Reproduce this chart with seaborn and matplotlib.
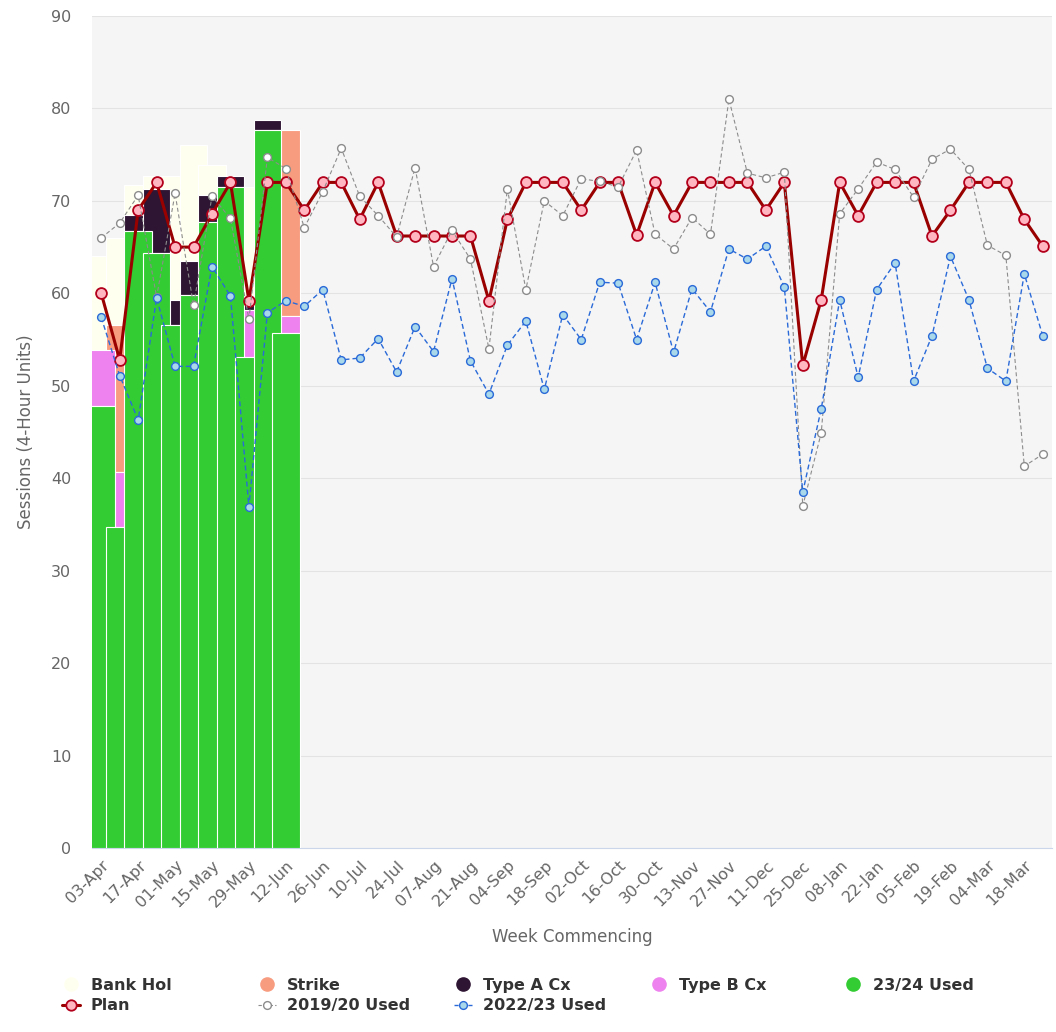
import matplotlib
matplotlib.use('Agg')
import matplotlib.pyplot as plt
from matplotlib.lines import Line2D
import seaborn as sns
import numpy as np

weeks = [
    '03-Apr', '10-Apr', '17-Apr', '24-Apr', '01-May', '08-May', '15-May', '22-May',
    '29-May', '05-Jun', '12-Jun', '19-Jun', '26-Jun', '03-Jul', '10-Jul', '17-Jul',
    '24-Jul', '31-Jul', '07-Aug', '14-Aug', '21-Aug', '28-Aug', '04-Sep', '11-Sep',
    '18-Sep', '25-Sep', '02-Oct', '09-Oct', '16-Oct', '23-Oct', '30-Oct', '06-Nov',
    '13-Nov', '20-Nov', '27-Nov', '04-Dec', '11-Dec', '18-Dec', '25-Dec', '01-Jan',
    '08-Jan', '15-Jan', '22-Jan', '29-Jan', '05-Feb', '12-Feb', '19-Feb', '26-Feb',
    '04-Mar', '11-Mar', '18-Mar', '25-Mar',
]

# stacked columns (only the first 11 weeks have actuals)
used_2324 = [47.8, 34.7, 66.7, 64.4, 56.6, 59.8, 67.75, 71.5, 53.1, 77.7, 55.7]
type_b_cx = [6.1, 6.0, 0, 0, 0, 0, 0, 0, 5.1, 0, 1.8]
type_a_cx = [0, 0, 1.8, 6.9, 2.7, 3.7, 2.85, 1.2, 0.7, 1.1, 0]
strike = [0, 15.9, 0, 0, 0, 0, 0, 0, 0, 0, 20.2]
bank_hol = [10.1, 9.4, 3.2, 1.4, 13.4, 12.5, 3.3, 0, 12.6, 0, 0]

plan = [
    60.0, 52.8, 69.0, 72.0, 65.0, 65.0, 68.6, 72.0, 59.2, 72.0, 72.0, 69.0,
    72.0, 72.0, 68.0, 72.0, 66.2, 66.2, 66.2, 66.2, 66.2, 59.2, 68.0, 72.0,
    72.0, 72.0, 69.0, 72.0, 72.0, 66.3, 72.0, 68.4, 72.0, 72.0, 72.0, 72.0,
    69.0, 72.0, 52.2, 59.3, 72.0, 68.4, 72.0, 72.0, 72.0, 66.2, 69.0, 72.0,
    72.0, 72.0, 68.0, 65.1,
]
used_1920 = [
    66.0, 67.6, 70.6, 59.6, 70.8, 58.7, 70.5, 68.1, 57.2, 74.7, 73.5, 67.1,
    71.0, 75.7, 70.5, 68.4, 66.1, 73.6, 62.9, 66.8, 63.7, 54.0, 71.3, 60.4,
    70.0, 68.4, 72.4, 72.1, 71.5, 75.5, 66.4, 64.8, 68.2, 66.4, 81.0, 73.0,
    72.5, 73.1, 37.0, 44.9, 68.6, 71.3, 74.2, 73.4, 70.4, 74.5, 75.6, 73.4,
    65.2, 64.1, 41.3, 42.6,
]
used_2223 = [
    57.4, 51.1, 46.3, 59.5, 52.1, 52.1, 62.9, 59.7, 36.9, 57.9, 59.2, 58.6,
    60.4, 52.8, 53.0, 55.1, 51.5, 56.4, 53.7, 61.6, 52.7, 49.1, 54.4, 57.0,
    49.6, 57.7, 55.0, 61.2, 61.1, 55.0, 61.2, 53.6, 60.5, 58.0, 64.8, 63.7,
    65.1, 60.7, 38.5, 47.5, 59.3, 50.9, 60.4, 63.3, 50.5, 55.4, 64.0, 59.3,
    51.9, 50.5, 62.1, 55.4,
]

C_BANK = '#fffff0'
C_STRIKE = '#f89c80'
C_TYPEA = '#2e1533'
C_TYPEB = '#ee82ee'
C_USED = '#33cc33'
C_PLAN = '#990000'
C_GREY = '#8c8c8c'
C_BLUE = '#2a6ad8'

sns.set_theme(style='white')
plt.rcParams['font.family'] = ['DejaVu Sans']

W, H = 1056, 1032
fig = plt.figure(figsize=(W / 100, H / 100), dpi=100)
ax = fig.add_axes([92 / W, 1 - 848 / H, 960 / W, 832 / H])
ax.set_facecolor('#f5f5f5')

# stacked bars - drawn series by series so wider columns overlap like the original
g = np.array(used_2324)
tb = np.array(type_b_cx)
ta = np.array(type_a_cx)
st = np.array(strike)
bh = np.array(bank_hol)
xb = np.arange(len(g))
bar_kw = dict(width=1.5, edgecolor='white', linewidth=0.8, zorder=2)
for vals, bottom, col in [
    (bh, g + tb + ta + st, C_BANK),
    (st, g + tb + ta, C_STRIKE),
    (ta, g + tb, C_TYPEA),
    (tb, g, C_TYPEB),
    (g, np.zeros_like(g), C_USED),
]:
    m = vals > 0
    ax.bar(xb[m], vals[m], bottom=bottom[m], color=col, **bar_kw)

idx = np.arange(len(weeks))
sns.lineplot(x=idx, y=plan, ax=ax, color=C_PLAN, linewidth=2.2, marker='o',
             markersize=7.8, markerfacecolor='#ffb6c1', markeredgecolor='#b3001b',
             markeredgewidth=1.3, zorder=4, legend=False)
sns.lineplot(x=idx, y=used_1920, ax=ax, color=C_GREY, linewidth=0.8, linestyle=(0, (3.6, 2.4)),
             marker='o', markersize=5.6, markerfacecolor='white', markeredgecolor=C_GREY,
             markeredgewidth=1.0, zorder=5, legend=False)
sns.lineplot(x=idx, y=used_2223, ax=ax, color=C_BLUE, linewidth=1.0, linestyle=(0, (3.6, 2.2)),
             marker='o', markersize=5.6, markerfacecolor='#a8d8ea', markeredgecolor=C_BLUE,
             markeredgewidth=1.0, zorder=6, legend=False)

ax.set_xlim(-0.5, len(weeks) - 0.5)
ax.set_ylim(0, 90)
ax.set_yticks(np.arange(0, 91, 10))
ax.set_xticks(idx[::2])
ax.set_xticklabels(weeks[::2], rotation=45, ha='right', rotation_mode='anchor')
ax.tick_params(axis='y', length=0, pad=15, labelsize=11.5, labelcolor='#666666')
ax.tick_params(axis='x', length=0, pad=7, labelsize=11.5, labelcolor='#666666')
ax.set_axisbelow(True)
ax.yaxis.grid(True, color='#e3e3e3', linewidth=0.8)
ax.xaxis.grid(False)
for side in ['left', 'right', 'top']:
    ax.spines[side].set_visible(False)
ax.spines['bottom'].set_color('#ccd6eb')
ax.spines['bottom'].set_linewidth(0.8)
ax.spines['bottom'].set_zorder(1)

ax.set_xlabel('Week Commencing', fontsize=12, color='#666666', va='top')
ax.xaxis.set_label_coords(0.5, (848 - 928) / 832)
ax.set_ylabel('Sessions (4-Hour Units)', fontsize=12, color='#666666')
ax.yaxis.set_label_coords((35 - 92) / 960, 0.5)

# legend: five fixed columns, two rows
def dot(col):
    return Line2D([], [], ls='none', marker='o', markersize=9.5, markerfacecolor=col,
                  markeredgecolor=col)

h_plan = Line2D([], [], color=C_PLAN, lw=2.2, marker='o', markersize=7.5,
                markerfacecolor='#ffb6c1', markeredgecolor='#b3001b', markeredgewidth=1.3)
h_1920 = Line2D([], [], color=C_GREY, lw=0.8, ls=(0, (3, 2)), marker='o', markersize=5.6,
                markerfacecolor='white', markeredgecolor=C_GREY)
h_2223 = Line2D([], [], color=C_BLUE, lw=1.0, ls=(0, (3, 2)), marker='o', markersize=5.6,
                markerfacecolor='#a8d8ea', markeredgecolor=C_BLUE)

legend_cols = [
    [(dot(C_BANK), 'Bank Hol'), (h_plan, 'Plan')],
    [(dot(C_STRIKE), 'Strike'), (h_1920, '2019/20 Used')],
    [(dot(C_TYPEA), 'Type A Cx'), (h_2223, '2022/23 Used')],
    [(dot(C_TYPEB), 'Type B Cx')],
    [(dot(C_USED), '23/24 Used')],
]
col_left = [62, 258, 454, 650, 844]
for left, items in zip(col_left, legend_cols):
    fig.legend([h for h, _ in items], [t for _, t in items], loc='upper left',
               bbox_to_anchor=(left / W, 1 - 978 / H), frameon=False, borderpad=0,
               borderaxespad=0, handlelength=1.1, handletextpad=0.7, labelspacing=0.32,
               numpoints=1, prop={'weight': 'bold', 'size': 11.5}, labelcolor='#333333')

fig.savefig('out.png', dpi=100, facecolor='white')
